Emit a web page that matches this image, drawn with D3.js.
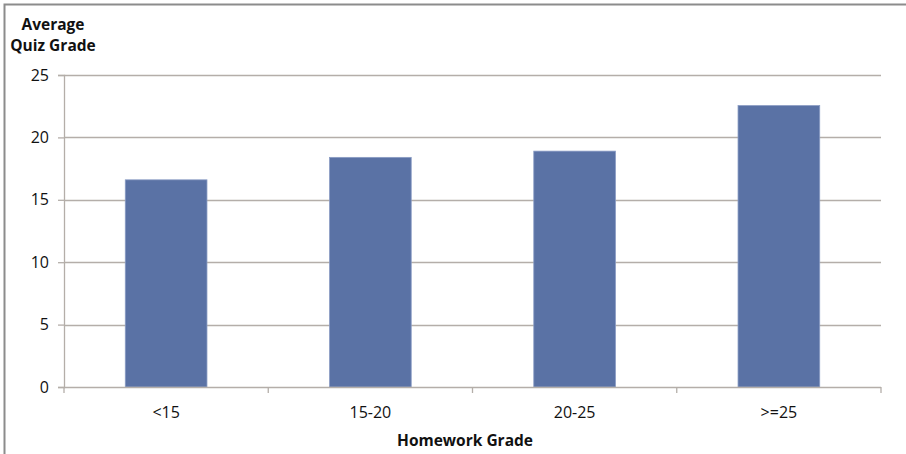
<!DOCTYPE html>
<html>
<head>
<meta charset="utf-8">
<script src="https://cdn.jsdelivr.net/npm/d3@7"></script>
<style>
  html, body { margin: 0; padding: 0; background: #fff; }
  svg { display: block; }
  text { font-family: "Open Sans", "Liberation Sans", sans-serif; fill: #111; }
</style>
</head>
<body>
<svg id="chart" width="906" height="454"></svg>
<script>
// Homework grade bands and the average quiz grade in each
const categories = ["<15", "15-20", "20-25", ">=25"];
const avgQuiz = [16.6, 18.4, 18.9, 22.55];
const yTicks = [0, 5, 10, 15, 20, 25];

const svg = d3.select("#chart");
const W = 906, H = 454;
const plot = { left: 64, right: 881, top: 75, bottom: 387 };

// frame around the chart
svg.append("path")
  .attr("d", `M4.5,${H} L4.5,4.5 L${W},4.5`)
  .attr("fill", "none")
  .attr("stroke", "#8c8c8c")
  .attr("stroke-width", 2);

const x = d3.scaleBand()
  .domain(categories)
  .range([plot.left, plot.right])
  .paddingInner(0.6)
  .paddingOuter(0.3);

const y = d3.scaleLinear()
  .domain([0, 25])
  .range([plot.bottom, plot.top]);

const gridColor = "#b4aea9";

// horizontal gridlines
svg.append("g")
  .selectAll("line")
  .data(yTicks.filter(d => d > 0))
  .join("line")
  .attr("x1", plot.left)
  .attr("x2", plot.right)
  .attr("y1", d => Math.round(y(d)) + 0.5)
  .attr("y2", d => Math.round(y(d)) + 0.5)
  .attr("stroke", gridColor)
  .attr("stroke-width", 1.3);

// bars
svg.append("g")
  .selectAll("rect")
  .data(categories.map((c, i) => ({ c, v: avgQuiz[i] })))
  .join("rect")
  .attr("x", d => x(d.c))
  .attr("y", d => y(d.v))
  .attr("width", x.bandwidth())
  .attr("height", d => y(0) - y(d.v))
  .attr("fill", "#5a72a5")
  .attr("stroke", "#8a9cc4")
  .attr("stroke-width", 0.8);

// y axis
const yAxis = svg.append("g")
  .attr("transform", `translate(${plot.left},0)`)
  .call(d3.axisLeft(y).tickValues(yTicks).tickSize(6).tickPadding(9));
yAxis.select(".domain").attr("stroke", gridColor).attr("stroke-width", 1.3);
yAxis.selectAll(".tick line").attr("stroke", gridColor).attr("stroke-width", 1.3);
yAxis.selectAll("text")
  .style("font-family", '"Open Sans", sans-serif')
  .style("font-size", "16px")
  .attr("fill", "#111");

// x axis with ticks at band boundaries
const xAxisG = svg.append("g");
xAxisG.append("line")
  .attr("x1", plot.left).attr("x2", plot.right)
  .attr("y1", plot.bottom + 0.5).attr("y2", plot.bottom + 0.5)
  .attr("stroke", gridColor).attr("stroke-width", 1.3);
const step = (plot.right - plot.left) / categories.length;
xAxisG.selectAll("line.tick")
  .data(d3.range(categories.length + 1))
  .join("line")
  .attr("class", "tick")
  .attr("x1", i => plot.left + i * step)
  .attr("x2", i => plot.left + i * step)
  .attr("y1", plot.bottom)
  .attr("y2", plot.bottom + 6)
  .attr("stroke", gridColor)
  .attr("stroke-width", 1.3);
xAxisG.selectAll("text")
  .data(categories)
  .join("text")
  .attr("x", d => x(d) + x.bandwidth() / 2)
  .attr("y", plot.bottom + 25)
  .attr("dominant-baseline", "central")
  .attr("text-anchor", "middle")
  .style("font-size", "16px")
  .text(d => d);

// axis titles
const yTitle = svg.append("text")
  .attr("text-anchor", "middle")
  .style("font-size", "15.5px")
  .style("font-weight", "bold");
yTitle.append("tspan").attr("x", 53).attr("y", 30).text("Average");
yTitle.append("tspan").attr("x", 53).attr("y", 51).text("Quiz Grade");

svg.append("text")
  .attr("x", 465)
  .attr("y", 440)
  .attr("dominant-baseline", "central")
  .attr("text-anchor", "middle")
  .style("font-size", "15.5px")
  .style("font-weight", "bold")
  .text("Homework Grade");
</script>
</body>
</html>
